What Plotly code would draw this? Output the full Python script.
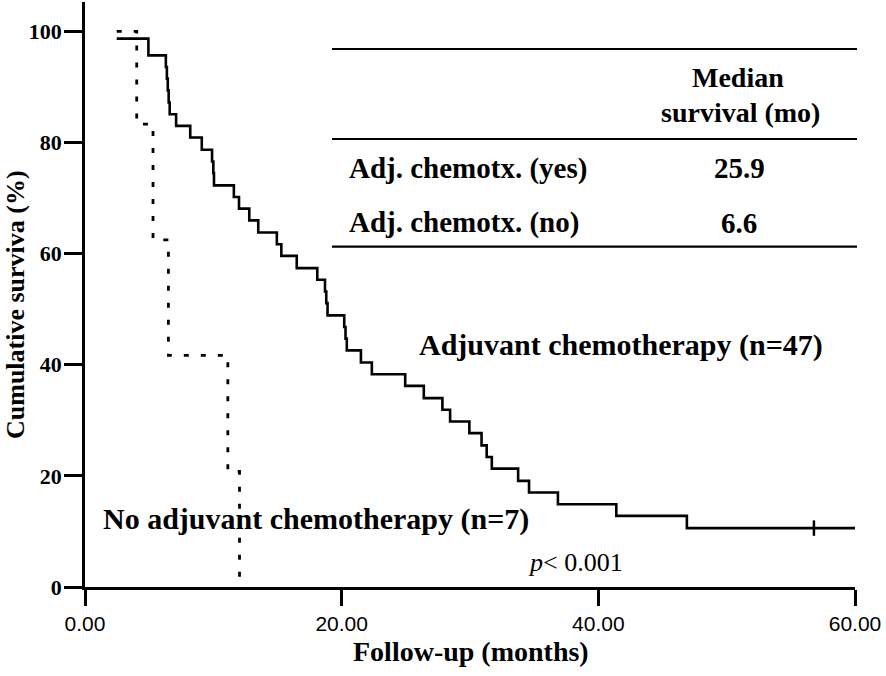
import plotly.graph_objects as go

# Adjuvant chemotherapy (n=47): step points (time in months, survival %)
adj_time = [2.47, 4.94, 6.30, 6.38, 6.45, 6.52, 6.60, 7.10, 8.20, 9.10, 9.90, 10.00, 10.05,
            11.60, 12.00, 12.80, 13.50, 14.95, 15.30, 16.50, 18.10, 18.70, 18.80, 18.90,
            20.20, 20.30, 20.40, 21.50, 22.35, 24.95, 26.40, 27.85, 28.45, 29.95, 30.90,
            31.30, 31.70, 33.75, 34.60, 36.85, 41.40, 46.90, 60.00]
adj_surv = [98.7, 95.7, 93.6, 91.5, 89.4, 87.2, 85.1, 83.0, 80.9, 78.7, 76.6, 74.5, 72.3,
            70.2, 68.1, 66.0, 63.8, 61.7, 59.6, 57.4, 55.3, 53.2, 51.1, 48.9,
            46.8, 44.7, 42.6, 40.4, 38.3, 36.2, 34.0, 31.9, 29.8, 27.7, 25.5,
            23.4, 21.3, 19.1, 17.0, 14.9, 12.8, 10.6, 10.6]
adj_censor_time = [56.8]
adj_censor_surv = [10.6]

# No adjuvant chemotherapy (n=7)
no_time = [2.47, 4.03, 5.30, 6.50, 11.13, 12.04]
no_surv = [100.0, 83.3, 62.5, 41.7, 20.8, 0.0]

x_ticks = [0, 20, 40, 60]
x_tick_labels = ["0.00", "20.00", "40.00", "60.00"]
y_ticks = [0, 20, 40, 60, 80, 100]

table_rows = ["Adj. chemotx. (yes)", "Adj. chemotx. (no)"]
table_medians = ["25.9", "6.6"]
p_text = "<i>p</i>&lt; 0.001"

SERIF = "Liberation Serif"
SANS = "Liberation Sans"

def bf(size):
    return dict(family=SERIF, size=size, color="black", weight="bold")

fig = go.Figure()
fig.add_trace(go.Scatter(x=adj_time, y=adj_surv, mode="lines",
                         line=dict(color="black", width=2.6, shape="hv"),
                         showlegend=False, cliponaxis=False, hoverinfo="skip"))
fig.add_trace(go.Scatter(x=no_time, y=no_surv, mode="lines",
                         line=dict(color="black", width=2.8, shape="hv", dash="5px,12px"),
                         showlegend=False, cliponaxis=False, hoverinfo="skip"))
fig.add_trace(go.Scatter(x=adj_censor_time, y=adj_censor_surv, mode="markers",
                         marker=dict(symbol="line-ns", size=11, line=dict(color="black", width=2.5)),
                         showlegend=False, hoverinfo="skip"))

W, H = 886, 676
L, R, T, B = 85, 31, 2, 89
pw, ph = W - L - R, H - T - B

def px(xp):
    return (xp - L) / pw

def py(yp):
    return (H - B - yp) / ph

def pann(text, xp, yp, font, xanchor="center", angle=0):
    return dict(text=text, x=px(xp), y=py(yp), xref="paper", yref="paper",
                xanchor=xanchor, yanchor="middle", textangle=angle,
                showarrow=False, font=font)

annotations = [
    dict(text="Adjuvant chemotherapy (n=47)", x=41.8, y=43.5, xref="x", yref="y",
         xanchor="center", yanchor="middle", showarrow=False, font=bf(30)),
    dict(text="No adjuvant chemotherapy (n=7)", x=18.0, y=12.2, xref="x", yref="y",
         xanchor="center", yanchor="middle", showarrow=False, font=bf(30)),
    dict(text=p_text, x=38.2, y=4.4, xref="x", yref="y",
         xanchor="center", yanchor="middle", showarrow=False,
         font=dict(family=SERIF, size=26, color="black")),
    pann("Follow-up (months)", 471, 651, bf(28)),
    pann("Cumulative surviva (%)", 16, 305, bf(26), angle=-90),
    pann("Median", 738, 77, bf(28)),
    pann("survival (mo)", 740, 112, bf(28)),
]
row_y = [168, 222.6]
for name, med, yy in zip(table_rows, table_medians, row_y):
    annotations.append(pann(name, 347, yy, bf(29), xanchor="left"))
    annotations.append(pann(med, 739, yy, bf(29)))

shapes = []
for ly in [49, 139, 246.7]:
    shapes.append(dict(type="line", xref="paper", yref="paper", x0=px(332), x1=px(857),
                       y0=py(ly), y1=py(ly), line=dict(color="black", width=2.2)))

fig.update_layout(
    width=W, height=H,
    margin=dict(l=L, r=R, t=T, b=B),
    plot_bgcolor="white", paper_bgcolor="white",
    annotations=annotations, shapes=shapes,
    hovermode=False,
    xaxis=dict(range=[0, 60], tickvals=x_ticks, ticktext=x_tick_labels,
               showgrid=False, zeroline=False, showline=True, linecolor="black", linewidth=2.5,
               ticks="outside", ticklen=16, tickwidth=2.5, tickcolor="black",
               tickfont=dict(family=SANS, size=21, color="black"), ticklabelstandoff=0),
    yaxis=dict(range=[0, 105.3], tickvals=y_ticks,
               showgrid=False, zeroline=False, showline=True, linecolor="black", linewidth=2.5,
               ticks="outside", ticklen=18, tickwidth=2.5, tickcolor="black",
               tickfont=dict(family=SERIF, size=22, color="black", weight="bold"),
               ticklabelstandoff=-2),
)

fig.write_html("out.html", config={"displayModeBar": False},
               post_script="document.body.style.margin='0';document.body.style.padding='0';"
                           "document.body.style.overflow='hidden';")
